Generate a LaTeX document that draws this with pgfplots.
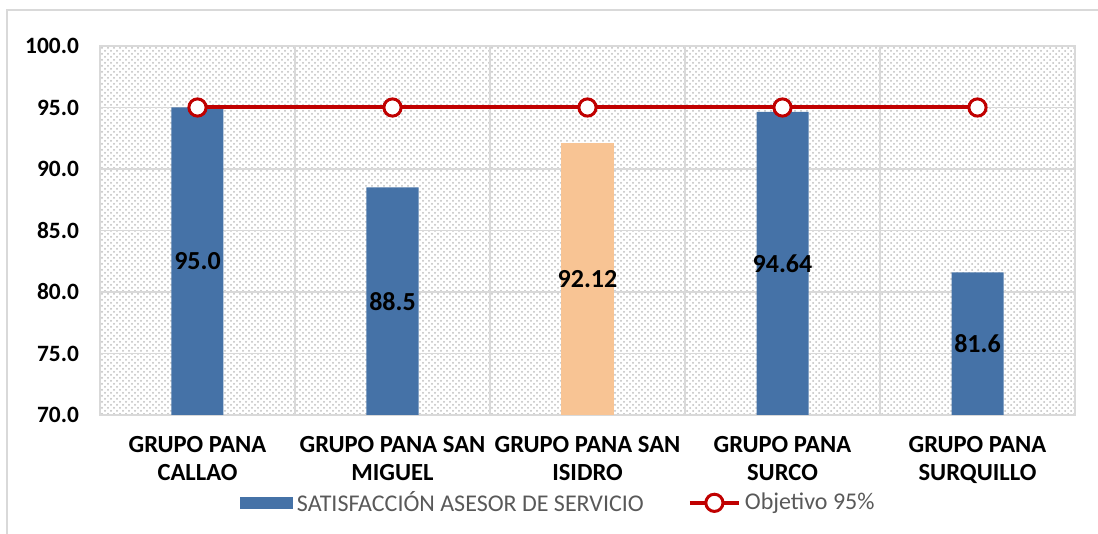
\documentclass[border=0pt]{standalone}
\usepackage{pgfplots}
\pgfplotsset{compat=1.18}
\usetikzlibrary{patterns}
\usepackage{fontspec}
\setmainfont{Carlito}

\definecolor{barblue}{RGB}{69,114,167}
\definecolor{barorange}{RGB}{248,196,148}
\definecolor{objred}{RGB}{192,0,0}
\definecolor{gridgray}{RGB}{217,217,217}
\definecolor{legtext}{RGB}{89,89,89}

\begin{document}
\begin{tikzpicture}
\useasboundingbox (-50pt,-59.5pt) rectangle (499pt,207.5pt);
% chart area frame (top and left edges visible)
\draw[gridgray, line width=0.8pt] (-46.5pt,-59.5pt) -- (-46.5pt,202.5pt) -- (499pt,202.5pt);
\begin{axis}[
    scale only axis,
    width=487.5pt, height=184.5pt,
    xmin=-0.5, xmax=4.5,
    ymin=70, ymax=100,
    ytick={70,75,80,85,90,95,100},
    xtick={0,1,2,3,4},
    xticklabels={{GRUPO PANA\\CALLAO},{GRUPO PANA SAN\\MIGUEL},{GRUPO PANA SAN\\ISIDRO},{GRUPO PANA\\SURCO},{GRUPO PANA\\SURQUILLO}},
    minor xtick={0.5,1.5,2.5,3.5},
    ymajorgrids, xminorgrids,
    major grid style={gridgray, line width=0.8pt},
    minor grid style={gridgray, line width=0.8pt},
    axis line style={gridgray, line width=0.8pt},
    major tick length=0pt, minor tick length=0pt,
    axis background/.style={fill=white, postaction={pattern=crosshatch dots, pattern color=gridgray!70!gray}},
    /pgf/number format/assume math mode=true,
    /pgf/number format/fixed,
    /pgf/number format/fixed zerofill,
    /pgf/number format/precision=1,
    yticklabel style={font=\fontsize{11.7}{13}\selectfont\bfseries, xshift=-7pt},
    xticklabel style={font=\fontsize{12.3}{14}\selectfont\bfseries, align=center, yshift=-7pt},
    legend style={at={(0.471,-0.238)}, anchor=center, draw=none, fill=none,
        font=\fontsize{12}{13}\selectfont\color{legtext}, legend columns=2,
        /tikz/every even column/.append style={column sep=20pt}},
]
\addplot[ybar, bar width=26pt, bar shift=0pt, fill=barblue, draw=none,
    legend image code/.code={\fill[barblue] (0pt,-3pt) rectangle (26.5pt,3pt);}]
  coordinates {(0,95.0) (1,88.5) (3,94.64) (4,81.6)};
\addlegendentry{SATISFACCIÓN ASESOR DE SERVICIO}
\addplot[ybar, bar width=26pt, bar shift=0pt, fill=barorange, draw=none, forget plot]
  coordinates {(2,92.12)};
\addplot[objred, line width=2pt, mark=*, mark size=4.3pt,
    mark options={fill=white, draw=objred, line width=1.5pt},
    legend image code/.code={\draw[objred, line width=2pt] (0pt,0pt) -- (24.5pt,0pt);
        \draw[objred, line width=1.5pt, fill=white] (12.25pt,0pt) circle (4.3pt);}]
  coordinates {(0,95) (1,95) (2,95) (3,95) (4,95)};
\addlegendentry{Objetivo 95\%}
% value labels, centred inside the bars
\addplot[draw=none, mark=none, forget plot, point meta=explicit symbolic,
    nodes near coords, nodes near coords align=center,
    every node near coord/.append style={font=\fontsize{13}{14}\selectfont\bfseries, black}]
  coordinates {(0,82.5)[95.0] (1,79.25)[88.5] (2,81.06)[92.12] (3,82.32)[94.64] (4,75.8)[81.6]};
\end{axis}
\end{tikzpicture}
\end{document}
